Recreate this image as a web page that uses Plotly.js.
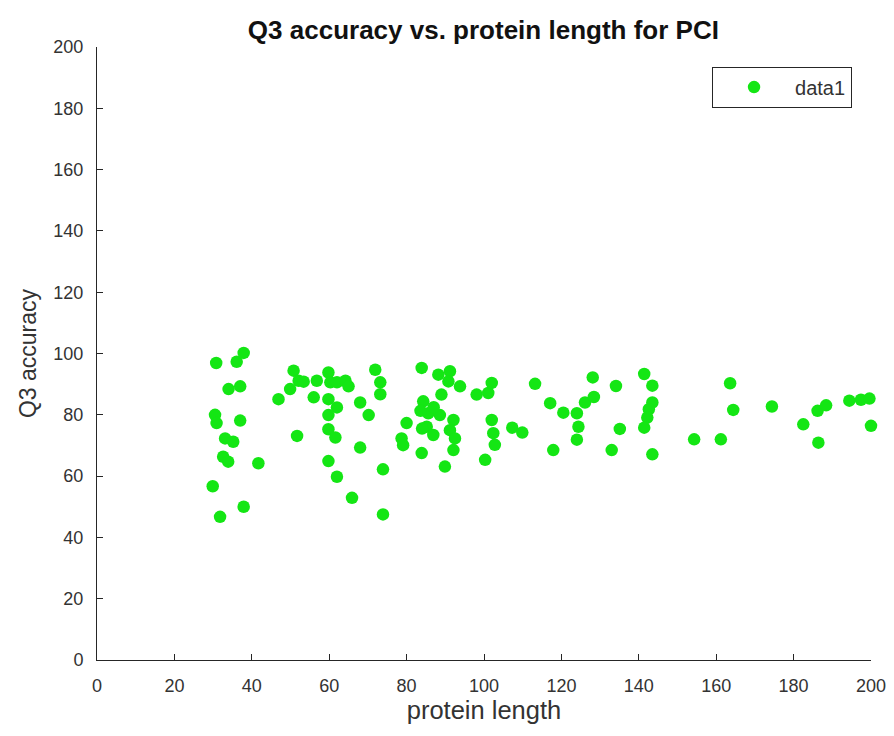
<!DOCTYPE html>
<html>
<head>
<meta charset="utf-8">
<script src="https://cdn.plot.ly/plotly-3.0.1.min.js"></script>
<style>html,body{margin:0;padding:0;background:#fff;}#chart{width:894px;height:736px;}</style>
</head>
<body>
<div id="chart"></div>
<script>
var proteinLength = [
  30.8, 36.1, 37.9, 34.0, 37.0, 30.5, 30.9, 37.0, 33.1, 35.2, 32.6, 33.9, 41.7, 29.9, 37.9, 31.8,
  46.9, 50.8, 49.9, 52.1, 53.4, 51.7, 56.8, 56.0, 59.8, 60.3, 62.0, 64.2, 65.0, 59.8, 62.0, 59.8,
  59.8, 61.6, 59.8, 62.0, 65.9, 68.0, 70.2, 68.0, 71.9, 73.2, 73.2, 73.9, 73.9,
  83.9, 88.2, 91.2, 90.8, 93.8, 98.1, 101.1, 102.0, 89.0, 84.3, 85.6, 88.6, 92.1, 85.2, 86.9, 91.2,
  92.5, 92.1, 80.0, 78.7, 79.1, 83.9, 89.9, 100.3, 102.0, 102.4, 102.8, 83.6, 87.0, 84.0,
  107.3, 109.9, 113.2, 117.1, 120.5, 124.0, 126.1, 128.4, 124.4, 124.0, 117.9, 128.1, 134.1, 135.1, 133.0,
  141.4, 143.5, 143.5, 142.6, 142.2, 141.4, 143.5, 154.3, 161.2, 163.6, 164.4, 174.4, 182.5, 186.2,
  188.4, 186.4, 194.4, 197.4, 199.6, 200.0
];
var q3Accuracy = [
  96.9, 97.3, 100.2, 88.4, 89.3, 80.0, 77.3, 78.1, 72.3, 71.2, 66.3, 64.7, 64.2, 56.7, 50.0, 46.7,
  85.1, 94.4, 88.4, 91.1, 90.8, 73.1, 91.1, 85.7, 93.8, 90.6, 90.6, 91.1, 89.3, 85.1, 82.4, 79.9,
  75.3, 72.6, 64.9, 59.8, 52.9, 84.0, 79.9, 69.3, 94.7, 90.6, 86.7, 62.2, 47.5,
  95.3, 93.1, 94.2, 90.9, 89.3, 86.6, 87.1, 90.4, 86.6, 84.4, 80.5, 79.9, 78.3, 76.1, 73.4, 75.0,
  72.3, 68.5, 77.3, 72.3, 70.1, 67.5, 63.1, 65.3, 78.3, 74.0, 70.2, 81.3, 82.5, 75.5,
  75.8, 74.2, 90.1, 83.8, 80.7, 80.5, 84.0, 85.8, 76.1, 71.9, 68.5, 92.2, 89.4, 75.4, 68.5,
  93.3, 89.5, 84.0, 81.8, 79.1, 75.8, 67.1, 72.0, 72.0, 90.3, 81.6, 82.7, 76.9, 81.3,
  83.1, 70.9, 84.6, 84.9, 85.3, 76.4
];
var seriesName = 'data1';
var tickVals = [0, 20, 40, 60, 80, 100, 120, 140, 160, 180, 200];

var FONT = 'Liberation Sans, Arial, Helvetica, sans-serif';

var trace = {
  x: proteinLength,
  y: q3Accuracy,
  type: 'scatter',
  mode: 'markers',
  name: seriesName,
  cliponaxis: false,
  marker: {color: '#14e614', size: 12.5, line: {width: 0}}
};

var axisCommon = {
  range: [0, 200],
  tickmode: 'array',
  tickvals: tickVals,
  ticks: 'inside',
  ticklen: 6,
  tickwidth: 1,
  tickcolor: '#262626',
  showline: true,
  linecolor: '#262626',
  linewidth: 1,
  mirror: false,
  showgrid: false,
  zeroline: false,
  tickfont: {family: FONT, size: 18, color: '#333333'}
};

var layout = {
  width: 894,
  height: 736,
  margin: {l: 97, r: 23, t: 47, b: 76},
  paper_bgcolor: '#ffffff',
  plot_bgcolor: '#ffffff',
  showlegend: true,
  title: {
    text: '<b>Q3 accuracy vs. protein length for PCI</b>',
    font: {family: FONT, size: 26, color: '#111111'},
    x: 0.5407, xanchor: 'center', y: 0.96, yanchor: 'middle'
  },
  xaxis: Object.assign({}, axisCommon, {
    ticklabelstandoff: 9,
    title: {text: 'protein length', font: {family: FONT, size: 25.5, color: '#333333'}, standoff: 5}
  }),
  yaxis: Object.assign({}, axisCommon, {
    ticklabelstandoff: 9,
    title: {text: 'Q3 accuracy', font: {family: FONT, size: 23, color: '#333333'}, standoff: 10}
  }),
  legend: {
    x: 0.9755, xanchor: 'right', y: 0.968, yanchor: 'top',
    bgcolor: '#ffffff', bordercolor: '#262626', borderwidth: 1,
    font: {family: FONT, size: 20, color: '#333333'},
    itemwidth: 72
  }
};

Plotly.newPlot('chart', [trace], layout, {displayModeBar: false, staticPlot: true});
</script>
</body>
</html>
